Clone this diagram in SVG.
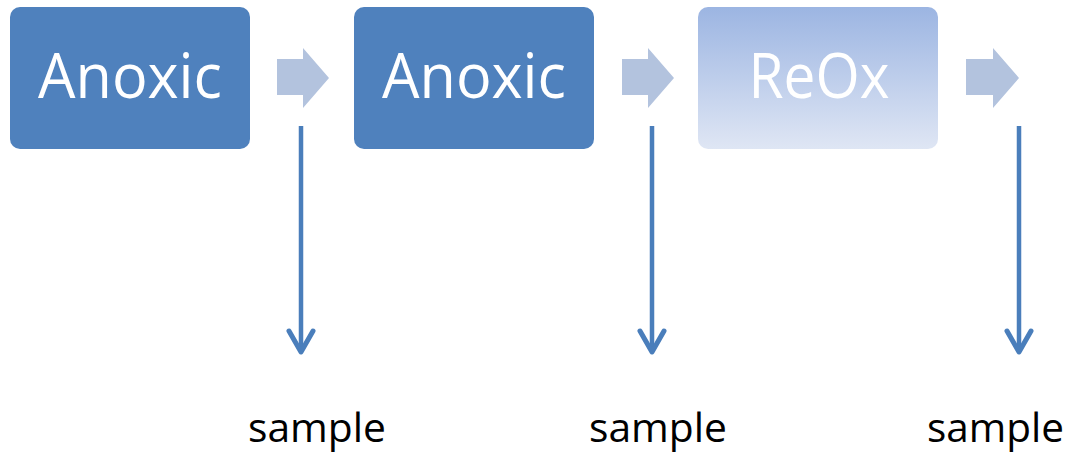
<svg xmlns="http://www.w3.org/2000/svg" width="1074" height="455" viewBox="0 0 1074 455">
<defs>
<linearGradient id="g" x1="0" y1="0" x2="0" y2="1">
<stop offset="0" stop-color="#9cb5e2"/>
<stop offset="1" stop-color="#dfe6f4"/>
</linearGradient>
<style>
.box{fill:#4f81bd}
.lbl{font-family:"Open Sans","Liberation Sans",sans-serif;font-size:63px;fill:#fff;text-anchor:middle}
.flow{fill:#b3c3de}
.samp{font-family:"Open Sans","Liberation Sans",sans-serif;font-size:40px;fill:#000}
.down{stroke:#4a7ebb;stroke-width:4.5;fill:none}
.head{stroke:#4a7ebb;stroke-width:5;fill:none;stroke-linecap:round;stroke-linejoin:round}
</style>
</defs>
<g id="node-anoxic1">
<rect class="box" x="10" y="7" width="240" height="142" rx="10"/>
<text class="lbl" x="130" y="98" textLength="184" lengthAdjust="spacingAndGlyphs">Anoxic</text>
</g>
<g id="node-anoxic2">
<rect class="box" x="354" y="7" width="240" height="142" rx="10"/>
<text class="lbl" x="474" y="98" textLength="184" lengthAdjust="spacingAndGlyphs">Anoxic</text>
</g>
<g id="node-reox">
<rect x="698" y="7" width="240" height="142" rx="10" fill="url(#g)"/>
<text class="lbl" x="819" y="98" textLength="141" lengthAdjust="spacingAndGlyphs">ReOx</text>
</g>
<g id="node-sample1"><text class="samp" x="248" y="442" textLength="138" lengthAdjust="spacingAndGlyphs">sample</text></g>
<g id="node-sample2"><text class="samp" x="589" y="442" textLength="138" lengthAdjust="spacingAndGlyphs">sample</text></g>
<g id="node-sample3"><text class="samp" x="927" y="442" textLength="137" lengthAdjust="spacingAndGlyphs">sample</text></g>
<g id="connectors">
<polygon class="flow" points="277,59 303,59 303,48 329,78 303,108 303,95 277,95"/>
<polygon class="flow" points="622,59 648,59 648,48 674,78 648,108 648,95 622,95"/>
<polygon class="flow" points="966,59 993,59 993,48 1019,78 993,108 993,95 966,95"/>
<line class="down" x1="301" y1="126" x2="301" y2="351"/>
<polyline class="head" points="289,331 301,352 313,331"/>
<line class="down" x1="652" y1="126" x2="652" y2="351"/>
<polyline class="head" points="640,331 652,352 664,331"/>
<line class="down" x1="1019" y1="126" x2="1019" y2="351"/>
<polyline class="head" points="1007,331 1019,352 1031,331"/>
</g>
</svg>
